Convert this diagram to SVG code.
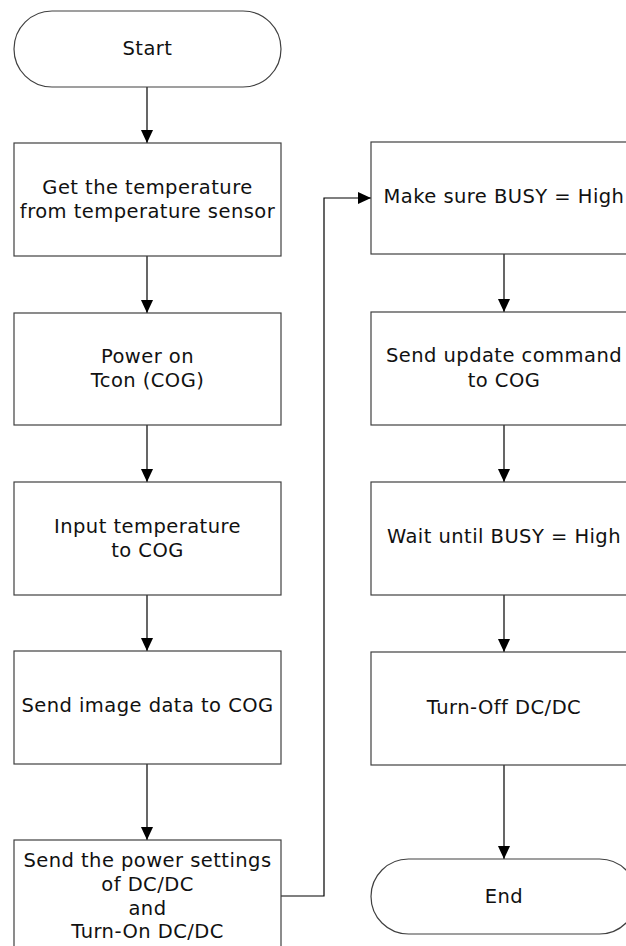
<svg xmlns="http://www.w3.org/2000/svg" width="626" height="946" viewBox="0 0 626 946">
<defs>
<style>
.box{fill:#fff;stroke:#404040;stroke-width:1.2}
.t{font-family:"DejaVu Sans","Verdana",sans-serif;font-size:19.5px;letter-spacing:0.45px;fill:#111;text-anchor:middle}
.c{fill:none;stroke:#000;stroke-width:1.2}
</style>
<marker id="ah" markerUnits="userSpaceOnUse" markerWidth="14" markerHeight="15" viewBox="0 0 15 14" refX="14" refY="7" orient="auto">
<path d="M0,0.5 L14,7 L0,13.5 Z" fill="#000"/>
</marker>
</defs>
<rect width="626" height="946" fill="#fff"/>
<g id="connectors">
<path class="c" d="M147,87 V143" marker-end="url(#ah)"/>
<path class="c" d="M147,256 V313" marker-end="url(#ah)"/>
<path class="c" d="M147,425 V482" marker-end="url(#ah)"/>
<path class="c" d="M147,595 V651" marker-end="url(#ah)"/>
<path class="c" d="M147,764 V840" marker-end="url(#ah)"/>
<path class="c" d="M281,896 H324 V198 H371" marker-end="url(#ah)"/>
<path class="c" d="M504,254 V312" marker-end="url(#ah)"/>
<path class="c" d="M504,425 V482" marker-end="url(#ah)"/>
<path class="c" d="M504,595 V652" marker-end="url(#ah)"/>
<path class="c" d="M504,765 V859" marker-end="url(#ah)"/>
</g>
<g id="start">
<rect class="box" x="14" y="11" width="267" height="76" rx="38" ry="38"/>
<text class="t" x="147.5" y="55">Start</text>
</g>
<g id="get-temp">
<rect class="box" x="14" y="143" width="267" height="113"/>
<text class="t" x="147.5" y="194">Get the temperature</text>
<text class="t" x="147.5" y="218">from temperature sensor</text>
</g>
<g id="power-on">
<rect class="box" x="14" y="313" width="267" height="112"/>
<text class="t" x="147.5" y="363">Power on</text>
<text class="t" x="147.5" y="387">Tcon (COG)</text>
</g>
<g id="input-temp">
<rect class="box" x="14" y="482" width="267" height="113"/>
<text class="t" x="147.5" y="533">Input temperature</text>
<text class="t" x="147.5" y="557">to COG</text>
</g>
<g id="send-image">
<rect class="box" x="14" y="651" width="267" height="113"/>
<text class="t" x="147.5" y="712">Send image data to COG</text>
</g>
<g id="power-settings">
<rect class="box" x="14" y="840" width="267" height="113"/>
<text class="t" x="147.5" y="867">Send the power settings</text>
<text class="t" x="147.5" y="891">of DC/DC</text>
<text class="t" x="147.5" y="915">and</text>
<text class="t" x="147.5" y="938">Turn-On DC/DC</text>
</g>
<g id="busy-high">
<rect class="box" x="371" y="142" width="266" height="112"/>
<text class="t" x="504" y="203">Make sure BUSY = High</text>
</g>
<g id="update-cmd">
<rect class="box" x="371" y="312" width="266" height="113"/>
<text class="t" x="504" y="362">Send update command</text>
<text class="t" x="504" y="387">to COG</text>
</g>
<g id="wait-busy">
<rect class="box" x="371" y="482" width="266" height="113"/>
<text class="t" x="504" y="543">Wait until BUSY = High</text>
</g>
<g id="turn-off">
<rect class="box" x="371" y="652" width="266" height="113"/>
<text class="t" x="504" y="714">Turn-Off DC/DC</text>
</g>
<g id="end">
<rect class="box" x="371" y="859" width="266" height="75" rx="37.5" ry="37.5"/>
<text class="t" x="504" y="903">End</text>
</g>
</svg>
